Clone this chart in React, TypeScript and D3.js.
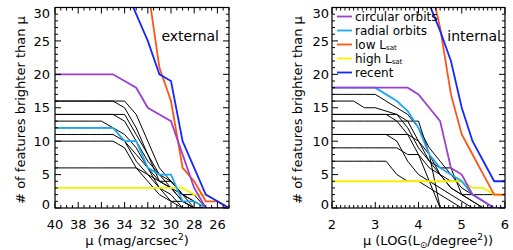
import { useEffect, useRef } from "react";
import * as d3 from "d3";

const W = 513;
const H = 250;
const TOP = 7.5;
const BOTTOM = 208;
const FONT = "'DejaVu Sans', sans-serif";

// external panel: surface brightness grid (mag/arcsec^2)
const EXT_MU = [40, 39, 38, 37, 36, 35, 34, 33, 32, 31, 30, 29, 28, 27, 26, 25];
const EXT_CIRCULAR = [20, 20, 20, 20, 20, 20, 19, 18, 15, 14, 13, 8, 3, 0, 0, 0];
const EXT_RADIAL = [12, 12, 12, 12, 12, 12, 10, 10, 6, 5, 5, 1, 1, 0, 0, 0];
const EXT_LOW_LSAT = [45, 45, 45, 45, 45, 45, 45, 45, 33, 21, 16, 6, 4, 1, 1, 0];
const EXT_HIGH_LSAT = [3, 3, 3, 3, 3, 3, 3, 3, 3, 3, 3, 3, 2, 2, 1, 0];
const EXT_RECENT = [40, 40, 40, 40, 40, 40, 33, 29, 25, 20, 19, 10, 6, 2, 1, 0];
const EXT_HALOS = [
  [16, 16, 16, 16, 16, 16, 15, 12, 8, 5, 3, 1, 0, 0, 0, 0],
  [16, 16, 16, 16, 16, 16, 16, 14, 10, 6, 4, 2, 1, 0, 0, 0],
  [14, 14, 14, 14, 14, 14, 13, 10, 7, 5, 4, 2, 0, 0, 0, 0],
  [13, 13, 13, 13, 13, 12, 10, 8, 6, 3, 2, 0, 0, 0, 0, 0],
  [12, 12, 12, 12, 12, 12, 11, 9, 6, 4, 3, 1, 0, 0, 0, 0],
  [11, 11, 11, 11, 11, 11, 10, 7, 5, 3, 1, 1, 0, 0, 0, 0],
  [10, 10, 10, 10, 10, 10, 9, 6, 4, 2, 1, 0, 0, 0, 0, 0],
  [6, 6, 6, 6, 6, 6, 6, 6, 5, 4, 3, 2, 2, 0, 0, 0],
  [14, 14, 14, 14, 14, 14, 14, 11, 8, 4, 4, 2, 1, 0, 0, 0],
];

// internal panel: LOG(Lsun/degree^2) grid
const INT_MU = [2, 2.25, 2.5, 2.75, 3, 3.25, 3.5, 3.75, 4, 4.25, 4.5, 4.75, 5, 5.25, 5.5, 5.75, 6];
const INT_CIRCULAR = [18, 18, 18, 18, 18, 18, 18, 18, 17, 15, 13, 6, 5, 2, 1, 0, 0];
const INT_RADIAL = [18, 18, 18, 18, 18, 17, 16, 14.5, 12, 8, 6, 5, 4, 2, 1, 0, 0];
const INT_LOW_LSAT = [40, 40, 40, 40, 40, 40, 40, 40, 40, 34, 27, 17, 11, 8, 5, 2, 2];
const INT_HIGH_LSAT = [4, 4, 4, 4, 4, 4, 4, 4, 4, 4, 4, 4, 4, 3, 3, 2, 2];
const INT_RECENT = [40, 40, 40, 40, 40, 40, 40, 40, 35, 30.5, 26.5, 22, 15, 10, 7, 4, 4];
const INT_HALOS = [
  [17, 17, 17, 17, 17, 16, 15, 14, 12, 9, 7, 5, 3, 2, 1, 0, 0],
  [16, 16, 16, 15, 15, 14.5, 14, 12, 9, 7, 6, 6, 2, 2, 2, 2, 2],
  [14, 14, 14, 14, 14, 14, 14, 13, 10, 7, 5, 3, 2, 1, 0, 0, 0],
  [14, 14, 14, 14, 14, 14, 13, 11, 8, 4, 0, 0, 0, 0, 0, 0, 0],
  [13, 13, 13, 13, 13, 13, 13, 13, 13, 8, 0, 0, 0, 0, 0, 0, 0],
  [11, 11, 11, 11, 11, 11, 10, 7, 5, 4, 3, 2, 1, 0, 0, 0, 0],
  [11, 11, 11, 11, 11, 11, 11, 11, 10, 8, 5, 3, 2, 1, 0, 0, 0],
  [9, 9, 9, 9, 9, 9, 9, 8, 8, 6, 5, 4, 4, 2, 1, 0, 0],
  [7, 7, 7, 7, 7, 7, 5, 4, 4, 3, 2, 1, 0, 0, 0, 0, 0],
];

const Y_TICKS = [0, 5, 10, 15, 20, 25, 30];
const EXT_TICKS = [40, 38, 36, 34, 32, 30, 28, 26];
const INT_TICKS = [2, 3, 4, 5, 6];

const C_CIRC = "#9b3fd2";
const C_RAD = "#1ea8f2";
const C_LOW = "#ff5417";
const C_HIGH = "#f2f200";
const C_REC = "#1428ff";

const LEGEND = [
  { label: "circular orbits", sub: "", color: C_CIRC },
  { label: "radial orbits", sub: "", color: C_RAD },
  { label: "low L", sub: "sat", color: C_LOW },
  { label: "high L", sub: "sat", color: C_HIGH },
  { label: "recent", sub: "", color: C_REC },
];

type Sel = d3.Selection<SVGGElement, unknown, null, undefined>;

interface Panel {
  id: string;
  left: number;
  right: number;
  domain: [number, number];
  mu: number[];
  halos: number[][];
  colored: { values: number[]; color: string }[];
  ticks: number[];
  minorStep: number;
  yLabelEnd: number;
  yTitleX: number;
  name: string;
  nameX: number;
}

function drawPanel(root: Sel, p: Panel) {
  const x = d3.scaleLinear().domain(p.domain).range([p.left, p.right]);
  const y = d3.scaleLinear().domain([0, 30]).range([BOTTOM, TOP]);
  const g = root.append("g");

  g.append("clipPath")
    .attr("id", p.id)
    .append("rect")
    .attr("x", p.left)
    .attr("y", TOP)
    .attr("width", p.right - p.left)
    .attr("height", BOTTOM - TOP);

  const line = d3
    .line<number>()
    .x((_, i) => x(p.mu[i]))
    .y((d) => y(d));

  const lines = g.append("g").attr("clip-path", `url(#${p.id})`);
  p.halos.forEach((s) =>
    lines.append("path").attr("d", line(s)).attr("fill", "none").attr("stroke", "#000").attr("stroke-width", 1)
  );
  p.colored.forEach((s) =>
    lines.append("path").attr("d", line(s.values)).attr("fill", "none").attr("stroke", s.color).attr("stroke-width", 1.8)
  );

  // frame
  g.append("rect")
    .attr("x", p.left)
    .attr("y", TOP)
    .attr("width", p.right - p.left)
    .attr("height", BOTTOM - TOP)
    .attr("fill", "none")
    .attr("stroke", "#000")
    .attr("stroke-width", 1.2);

  // ticks, all four sides, inward
  const lo = Math.min(...p.domain);
  const hi = Math.max(...p.domain);
  const minorX = d3.range(lo, hi + 1e-6, p.minorStep);
  const tickG = g.append("g").attr("stroke", "#000").attr("stroke-width", 1);
  minorX.forEach((v) => {
    const major = p.ticks.some((t) => Math.abs(t - v) < 1e-6);
    const len = major ? 6 : 3;
    tickG.append("line").attr("x1", x(v)).attr("x2", x(v)).attr("y1", BOTTOM).attr("y2", BOTTOM - len);
    tickG.append("line").attr("x1", x(v)).attr("x2", x(v)).attr("y1", TOP).attr("y2", TOP + len);
  });
  d3.range(0, 31, 1).forEach((v) => {
    const len = v % 5 === 0 ? 6 : 3;
    tickG.append("line").attr("x1", p.left).attr("x2", p.left + len).attr("y1", y(v)).attr("y2", y(v));
    tickG.append("line").attr("x1", p.right).attr("x2", p.right - len).attr("y1", y(v)).attr("y2", y(v));
  });

  const txt = g.append("g").attr("font-family", FONT).attr("font-size", 13).attr("fill", "#000");
  p.ticks.forEach((t) =>
    txt.append("text").attr("x", x(t)).attr("y", 229).attr("text-anchor", "middle").text(String(t))
  );
  Y_TICKS.forEach((t) => {
    let cy = y(t);
    if (t === 0) cy = 204;
    if (t === 30) cy = 13.5;
    txt.append("text").attr("x", p.yLabelEnd).attr("y", cy + 4.7).attr("text-anchor", "end").text(String(t));
  });

  txt
    .append("text")
    .attr("transform", `translate(${p.yTitleX},110) rotate(-90)`)
    .attr("text-anchor", "middle")
    .text("# of features brighter than \u03bc");

  txt
    .append("text")
    .attr("x", p.nameX)
    .attr("y", 41)
    .attr("text-anchor", "end")
    .attr("font-size", 14)
    .text(p.name);
}

export default function App() {
  const ref = useRef<SVGSVGElement | null>(null);

  useEffect(() => {
    const svg = d3.select(ref.current);
    svg.selectAll("*").remove();
    const root = svg.append("g") as unknown as Sel;

    root.append("rect").attr("width", W).attr("height", H).attr("fill", "#fff");

    drawPanel(root, {
      id: "clip-ext",
      left: 55,
      right: 229,
      domain: [40, 25],
      mu: EXT_MU,
      halos: EXT_HALOS,
      colored: [
        { values: EXT_HIGH_LSAT, color: C_HIGH },
        { values: EXT_RADIAL, color: C_RAD },
        { values: EXT_LOW_LSAT, color: C_LOW },
        { values: EXT_RECENT, color: C_REC },
        { values: EXT_CIRCULAR, color: C_CIRC },
      ],
      ticks: EXT_TICKS,
      minorStep: 0.5,
      yLabelEnd: 50,
      yTitleX: 25,
      name: "external",
      nameX: 219,
    });

    drawPanel(root, {
      id: "clip-int",
      left: 332,
      right: 505,
      domain: [2, 6],
      mu: INT_MU,
      halos: INT_HALOS,
      colored: [
        { values: INT_HIGH_LSAT, color: C_HIGH },
        { values: INT_RADIAL, color: C_RAD },
        { values: INT_LOW_LSAT, color: C_LOW },
        { values: INT_RECENT, color: C_REC },
        { values: INT_CIRCULAR, color: C_CIRC },
      ],
      ticks: INT_TICKS,
      minorStep: 0.1,
      yLabelEnd: 329,
      yTitleX: 302,
      name: "internal",
      nameX: 501,
    });

    // x-axis titles
    const t1 = root
      .append("text")
      .attr("x", 137)
      .attr("y", 245)
      .attr("text-anchor", "middle")
      .attr("font-family", FONT)
      .attr("font-size", 13);
    t1.append("tspan").text("\u03bc (mag/arcsec");
    t1.append("tspan").attr("dy", -5).attr("font-size", 9).text("2");
    t1.append("tspan").attr("dy", 5).text(")");

    const t2 = root
      .append("text")
      .attr("x", 428)
      .attr("y", 245)
      .attr("text-anchor", "middle")
      .attr("font-family", FONT)
      .attr("font-size", 13);
    t2.append("tspan").text("\u03bc (LOG(L");
    t2.append("tspan").attr("dy", 3).attr("font-size", 9).text("\u2299");
    t2.append("tspan").attr("dy", -3).text("/degree");
    t2.append("tspan").attr("dy", -5).attr("font-size", 9).text("2");
    t2.append("tspan").attr("dy", 5).text("))");

    // legend in the internal panel
    const leg = root.append("g").attr("font-family", FONT).attr("font-size", 12);
    LEGEND.forEach((d, i) => {
      const ly = 16.5 + i * 14;
      leg.append("line").attr("x1", 337).attr("x2", 352).attr("y1", ly).attr("y2", ly).attr("stroke", d.color).attr("stroke-width", 1.8);
      const t = leg.append("text").attr("x", 355).attr("y", ly + 4.3);
      t.append("tspan").text(d.label);
      if (d.sub) t.append("tspan").attr("dy", 1).attr("font-size", 7).text(d.sub);
    });
  }, []);

  return (
    <svg
      ref={ref}
      width={W}
      height={H}
      viewBox={`0 0 ${W} ${H}`}
      style={{ position: "absolute", left: 0, top: 0 }}
    />
  );
}
